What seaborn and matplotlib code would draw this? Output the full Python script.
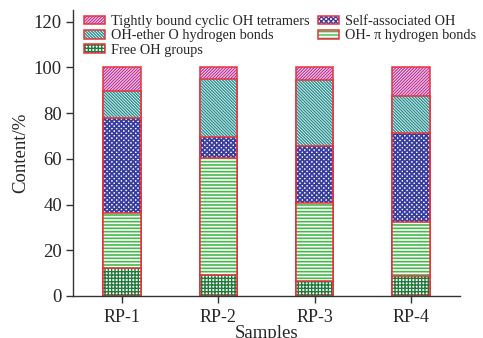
import matplotlib
matplotlib.use("Agg")
import matplotlib.pyplot as plt
import seaborn as sns
import numpy as np
from matplotlib.patches import Patch

samples = ["RP-1", "RP-2", "RP-3", "RP-4"]
free_oh = [12.3, 9.0, 6.5, 8.7]
oh_pi = [23.9, 51.5, 34.0, 23.7]
self_assoc = [41.5, 9.0, 25.0, 39.0]
oh_ether = [12.2, 25.5, 29.0, 16.0]
tetramers = [10.1, 5.0, 5.5, 12.6]

names = ["Free OH groups", "OH- \u03c0 hydrogen bonds", "Self-associated OH",
         "OH-ether O hydrogen bonds", "Tightly bound cyclic OH tetramers"]
series = [free_oh, oh_pi, self_assoc, oh_ether, tetramers]
hatches = ["+++++", "-----", "xxxxxxx", "\\" * 11, "/" * 11]
hlw = [1.0, 1.2, 1.3, 1.0, 1.0]
hcolors = ["#1f7a3a", "#45b84a", "#3a3f9e", "#2a8f8f", "#c03a9a"]
red = "#e8323c"

sns.set_style("ticks")
plt.rcParams["font.family"] = ["Liberation Serif", "DejaVu Serif"]

fig = plt.figure(figsize=(4.83, 3.38), dpi=100)
ax = fig.add_axes([73/483, 1-296/338, (460-73)/483, (296-10.3)/338])

cum = np.cumsum(np.array(series), axis=0)
handles = {}
for i in range(len(series) - 1, -1, -1):
    plt.rcParams["hatch.linewidth"] = hlw[i]
    sns.barplot(x=samples, y=cum[i], color="white", saturation=1, errorbar=None,
                width=0.39, hatch=hatches[i], edgecolor=hcolors[i], linewidth=0, ax=ax)
    hp = Patch(facecolor="white", edgecolor=hcolors[i], hatch=hatches[i], linewidth=0)
    sns.barplot(x=samples, y=cum[i], color=red, fill=False, saturation=1, errorbar=None,
                width=0.39, linewidth=1.1, ax=ax)
    handles[i] = (hp, Patch(facecolor="none", edgecolor=red, linewidth=1.1))

ax.set_xlim(-0.51, 3.51)
ax.set_ylim(0, 125)
ax.set_yticks(range(0, 121, 20))
ax.tick_params(axis="y", labelsize=13.5, length=5, width=1, color="#333333", pad=3)
ax.tick_params(axis="x", labelsize=13, length=5, width=1, color="#333333", pad=4)
for s in ["left", "bottom"]:
    ax.spines[s].set_color("#333333")
    ax.spines[s].set_linewidth(1.0)
sns.despine(ax=ax)
ax.set_ylabel("Content/%", fontsize=13.5, labelpad=3)
ax.set_xlabel("Samples", fontsize=13.5, labelpad=0)

order = [4, 3, 0, 2, 1]
leg = ax.legend([handles[i] for i in order], [names[i] for i in order], ncol=2,
                loc="upper left", bbox_to_anchor=(84/483, 1-15/338),
                bbox_transform=fig.transFigure, frameon=False, fontsize=10.3,
                borderpad=0, borderaxespad=0, labelspacing=0.1, columnspacing=0.55,
                handletextpad=0.4, handlelength=1.5, handleheight=0.55)

fig.savefig("out.png", dpi=100)
